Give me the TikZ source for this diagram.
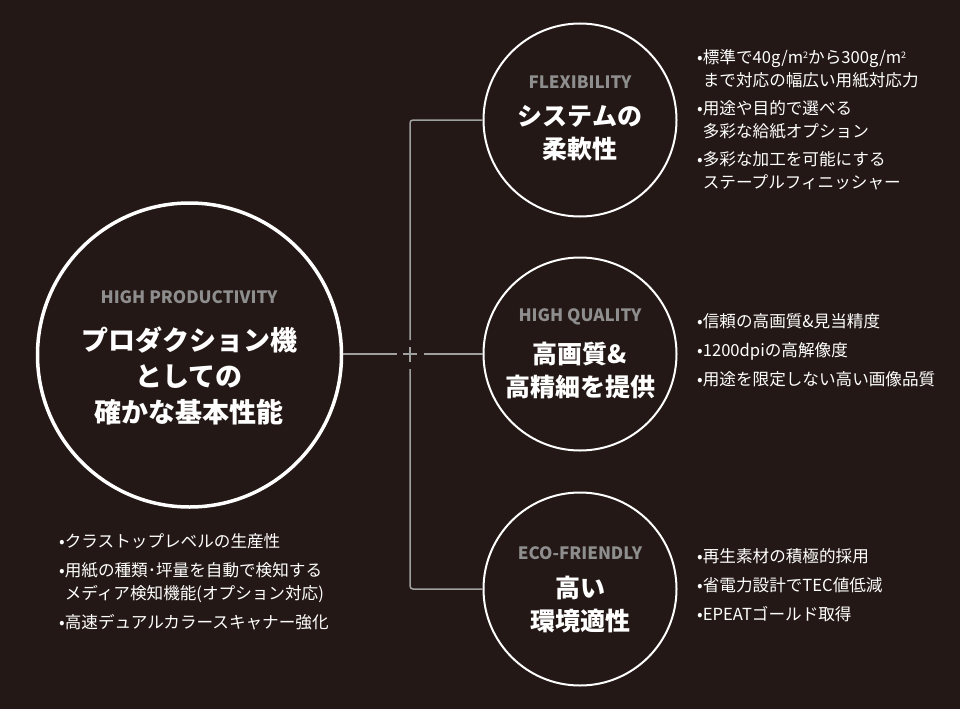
\documentclass[tikz,border=0pt]{standalone}
\usepackage{fontspec}
\setmainfont{Noto Sans CJK JP}
\definecolor{bg}{HTML}{231815}
\definecolor{lbl}{HTML}{8E8E8E}
\definecolor{ln}{HTML}{9FA0A0}
\newcommand{\sqm}{m\raisebox{0.55ex}{\fontsize{9}{9}\selectfont 2}}

\begin{document}
\begin{tikzpicture}[x=1pt,y=-1pt,
    hub/.style={draw=white,line width=3.5pt,circle,minimum size=304pt,inner sep=0pt},
    sub/.style={draw=white,line width=2pt,circle,minimum size=193pt,inner sep=0pt},
    tag/.style={text=lbl,font=\bfseries\fontsize{17}{17}\selectfont},
    ttl/.style={text=white,font=\bfseries\fontsize{25}{33}\selectfont,align=center},
    lst/.style={text=white,font=\fontsize{16.6}{23}\selectfont,align=left,anchor=north west,inner sep=0pt},
    link/.style={draw=ln,line width=1.5pt}]

  \fill[bg] (0,0) rectangle (960,709);
  \useasboundingbox (0,0) rectangle (960,709);

  % circles
  \node[hub] (P) at (189.5,355) {};
  \node[sub] (F) at (580,120) {};
  \node[sub] (Q) at (580,354) {};
  \node[sub] (E) at (580,589) {};

  % circle texts
  \node[tag] (Pt) at (189,297) {HIGH PRODUCTIVITY};
  \node[ttl,font=\bfseries\fontsize{27}{36}\selectfont] (Pm) at (189,376) {プロダクション機\\としての\\確かな基本性能};

  \node[tag] (Ft) at (580,82) {FLEXIBILITY};
  \node[ttl] (Fm) at (580,133.5) {システムの\\柔軟性};

  \node[tag] (Qt) at (580,317) {HIGH QUALITY};
  \node[ttl] (Qm) at (580,370) {高画質\&\\高精細を提供};

  \node[tag] (Et) at (580,553) {ECO-FRIENDLY};
  \node[ttl] (Em) at (580,605) {高い\\環境適性};

  % lists
  \node[lst] (Fl) at (697,49) {•標準で40g/\sqm から300g/\sqm\\\phantom{•}まで対応の幅広い用紙対応力\\[5pt]
    •用途や目的で選べる\\\phantom{•}多彩な給紙オプション\\[5pt]
    •多彩な加工を可能にする\\\phantom{•}ステープルフィニッシャー};
  \node[lst] (Ql) at (697,313) {•信頼の高画質\&見当精度\\[6pt]•1200dpiの高解像度\\[6pt]•用途を限定しない高い画像品質};
  \node[lst] (El) at (697,548) {•再生素材の積極的採用\\[6pt]•省電力設計でTEC値低減\\[6pt]•EPEATゴールド取得};
  \node[lst] (Pl) at (59,533) {•クラストップレベルの生産性\\[6pt]•用紙の種類･坪量を自動で検知する\\\phantom{•}メディア検知機能(オプション対応)\\[6pt]•高速デュアルカラースキャナー強化};

  % connectors
  \coordinate (J) at (410,354);
  \draw[link] (P.east |- J) -- ([xshift=-13pt]J);
  \draw[link] ([xshift=14pt]J) -- (Q.west);
  \draw[link] ([xshift=-7pt]J) -- ([xshift=7pt]J) ([yshift=7pt]J) -- ([yshift=-8pt]J);
  \draw[link,rounded corners=3pt] ([yshift=14pt]J) -- (J |- F.west) -- (F.west);
  \draw[link,rounded corners=3pt] ([yshift=-15pt]J) -- (J |- E.west) -- (E.west);
\end{tikzpicture}
\end{document}
